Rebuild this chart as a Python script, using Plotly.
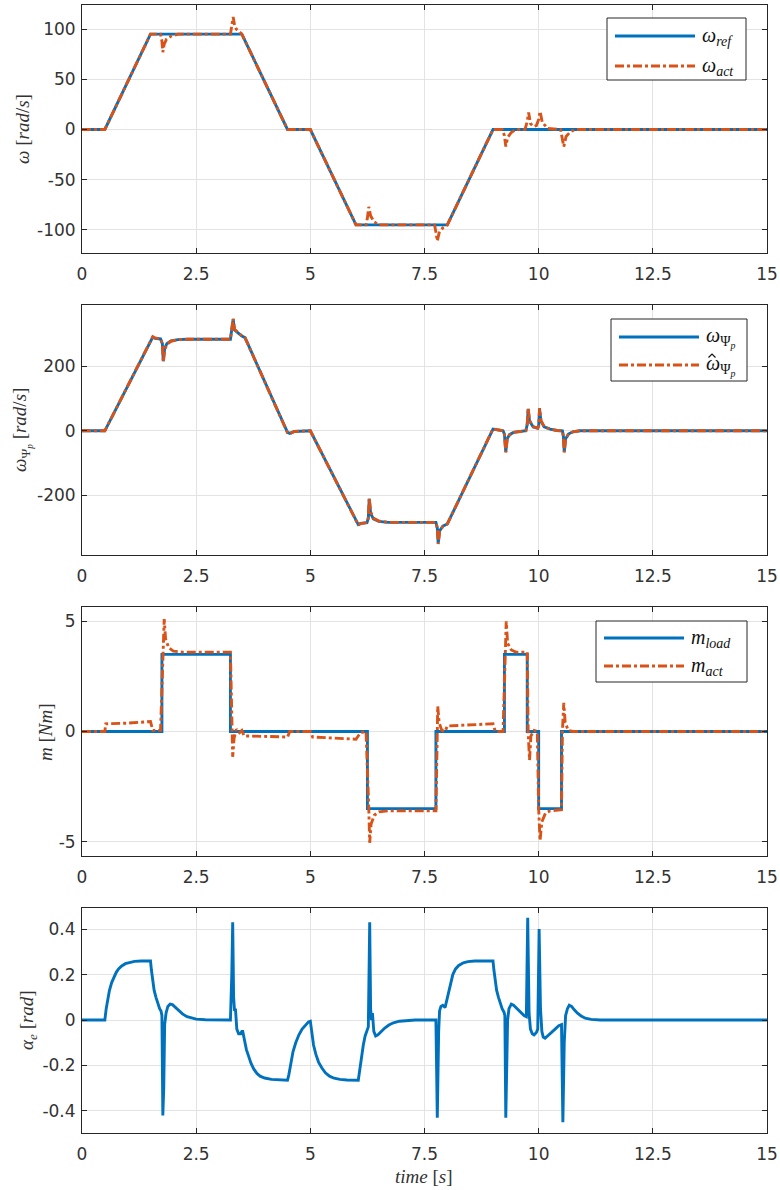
import plotly.graph_objects as go

# ---------------- data ----------------
x_ticks = [0, 2.5, 5, 7.5, 10, 12.5, 15]
x_tick_labels = ["0", "2.5", "5", "7.5", "10", "12.5", "15"]

# panel 1: speed reference / actual
t_w_ref = [0, 0.5, 1.5, 3.5, 4.5, 5.0, 6.0, 8.0, 9.0, 15]
w_ref = [0, 0, 95, 95, 0, 0, -95, -95, 0, 0]

t_w_act = [0, 0.5, 1.5, 1.72, 1.75, 1.77, 1.8, 1.85, 1.95, 2.1, 3.25, 3.28, 3.31,
           3.34, 3.38, 3.45, 3.5, 4.5, 5.0, 6.0, 6.22, 6.25, 6.28, 6.32, 6.4, 6.5,
           7.72, 7.75, 7.78, 7.82, 7.9, 8.0, 9.0, 9.2, 9.25, 9.28, 9.32, 9.4, 9.5,
           9.7, 9.75, 9.78, 9.82, 9.88, 9.95, 10.0, 10.03, 10.08, 10.2, 10.48,
           10.52, 10.55, 10.6, 10.7, 10.8, 15]
w_act = [0, 0, 95, 95, 88, 77, 85, 90, 93, 95, 95, 104, 112,
         104, 100, 97, 95, 0, 0, -95, -95, -88, -77, -86, -92, -95,
         -95, -102, -111, -103, -98, -95, 0, 0, -6, -17, -8, -3, 0,
         0, 8, 17, 6, 3, 4, 10, 18, 7, 1, 0,
         -8, -17, -7, -2, 0, 0]

# panel 2: flux speed / estimate
t_w_psi = [0, 0.5, 1.55, 1.6, 1.72, 1.76, 1.78, 1.81, 1.86, 1.95, 2.1, 2.3, 3.25,
           3.28, 3.31, 3.34, 3.4, 3.5, 3.57, 4.5, 4.55, 4.65, 5.0, 6.05, 6.1, 6.24,
           6.27, 6.29, 6.32, 6.38, 6.5, 6.7, 7.75, 7.78, 7.8, 7.83, 7.9, 8.0, 9.0,
           9.1, 9.22, 9.25, 9.28, 9.31, 9.36, 9.45, 9.6, 9.72, 9.75, 9.77, 9.8,
           9.88, 9.98, 10.0, 10.02, 10.05, 10.12, 10.25, 10.4, 10.52, 10.54, 10.56,
           10.59, 10.65, 10.75, 10.9, 15]
w_psi = [0, 0, 290, 286, 284, 270, 215, 255, 270, 278, 282, 283, 283,
         310, 345, 312, 305, 293, 288, -5, -8, -2, 0, -290, -286, -284,
         -270, -210, -255, -272, -280, -283, -283, -300, -348, -310, -295, -288, 5,
         3, 0, -10, -65, -25, -12, -5, -1, 0, 20, 68, 30,
         12, 8, 15, 68, 30, 12, 5, 1, 0, -15, -65,
         -25, -10, -3, 0, 0]
t_w_psi_hat = [0, 0.5, 1.55, 1.6, 1.72, 1.76, 1.78, 1.81, 1.86, 1.95, 2.1, 2.3, 3.25,
               3.28, 3.31, 3.34, 3.4, 3.5, 3.57, 4.5, 4.55, 4.65, 5.0, 6.05, 6.1, 6.24,
               6.27, 6.29, 6.32, 6.38, 6.5, 6.7, 7.75, 7.78, 7.8, 7.83, 7.9, 8.0, 9.0,
               9.1, 9.22, 9.25, 9.28, 9.31, 9.36, 9.45, 9.6, 9.72, 9.75, 9.77, 9.8,
               9.88, 9.98, 10.0, 10.02, 10.05, 10.12, 10.25, 10.4, 10.52, 10.54, 10.56,
               10.59, 10.65, 10.75, 10.9, 15]
w_psi_hat = [0, 0, 291, 287, 284, 268, 212, 250, 268, 277, 282, 283, 283,
             312, 347, 314, 306, 294, 288, -6, -9, -2, 0, -291, -287, -284,
             -268, -208, -250, -270, -279, -283, -283, -302, -350, -312, -296, -288, 6,
             3, 0, -12, -67, -27, -13, -5, -1, 0, 22, 70, 32,
             13, 8, 17, 70, 32, 13, 5, 1, 0, -17, -67,
             -27, -11, -3, 0, 0]

# panel 3: torque
t_m_load = [0, 1.75, 1.75, 3.25, 3.25, 6.25, 6.25, 7.75, 7.75, 9.25, 9.25, 9.75,
            9.75, 10.0, 10.0, 10.5, 10.5, 15]
m_load = [0, 0, 3.5, 3.5, 0, 0, -3.5, -3.5, 0, 0, 3.5, 3.5,
          0, 0, -3.5, -3.5, 0, 0]

t_m_act = [0, 0.5, 0.52, 1.0, 1.5, 1.55, 1.72, 1.77, 1.8, 1.83, 1.9, 2.0, 2.2, 3.25,
           3.28, 3.3, 3.33, 3.38, 3.45, 3.5, 3.55, 4.5, 4.55, 5.0, 5.05, 6.0, 6.1,
           6.22, 6.28, 6.3, 6.33, 6.4, 6.5, 6.7, 7.75, 7.77, 7.79, 7.82, 7.88, 7.95,
           8.0, 9.0, 9.05, 9.22, 9.27, 9.29, 9.32, 9.4, 9.5, 9.75, 9.77, 9.8, 9.83,
           9.9, 9.97, 10.0, 10.03, 10.07, 10.15, 10.25, 10.5, 10.52, 10.55, 10.58,
           10.65, 10.75, 15]
m_act = [0, 0, 0.35, 0.38, 0.45, 0.05, 0.05, 3.5, 5.1, 4.2, 3.8, 3.65, 3.6, 3.6,
         0.0, -1.15, -0.3, 0.1, -0.05, 0.05, -0.2, -0.25, 0.0, 0.0, -0.25, -0.35, -0.05,
         0.0, -3.5, -5.05, -4.2, -3.8, -3.65, -3.6, -3.6, 0.0, 1.15, 0.4, 0.05, 0.0,
         0.25, 0.35, 0.0, 0.0, 3.5, 5.0, 4.0, 3.7, 3.6, 3.6, 0.0, -1.3, -0.2,
         0.05, 0.0, -3.5, -4.95, -4.1, -3.7, -3.6, -3.55, 0.0, 1.3, 0.4,
         0.05, 0.0, 0.0]

# panel 4: load angle error
t_alpha = [0, 0.5, 0.53, 0.56, 0.6, 0.65, 0.7, 0.75, 0.8, 0.87, 0.95, 1.05, 1.15, 1.3,
           1.5, 1.52, 1.55, 1.58, 1.62, 1.66, 1.7, 1.73, 1.75, 1.77, 1.79, 1.81, 1.84,
           1.88, 1.93, 1.98, 2.05, 2.12, 2.2, 2.3, 2.4, 2.5, 2.7, 3.25,
           3.28, 3.3, 3.32, 3.34, 3.36, 3.39, 3.43, 3.47, 3.5, 3.52, 3.56, 3.6, 3.65,
           3.7, 3.76, 3.83, 3.9, 4.0, 4.15, 4.3, 4.5,
           4.53, 4.57, 4.62, 4.68, 4.75, 4.82, 4.9, 4.96, 5.0,
           5.03, 5.07, 5.12, 5.18, 5.25, 5.33, 5.42, 5.52, 5.65, 5.8, 6.05,
           6.08, 6.12, 6.16, 6.2, 6.25, 6.27, 6.3, 6.32, 6.34, 6.36, 6.39, 6.43, 6.48,
           6.55, 6.63, 6.72, 6.82, 6.95, 7.1, 7.3, 7.75,
           7.78, 7.81, 7.83, 7.86, 7.9, 7.95, 8.0, 8.03, 8.07, 8.12, 8.18, 8.25, 8.35,
           8.45, 8.6, 9.0,
           9.02, 9.05, 9.08, 9.12, 9.16, 9.2, 9.24, 9.26, 9.28, 9.3, 9.32, 9.35, 9.4,
           9.45, 9.52, 9.6, 9.68, 9.73, 9.76, 9.79, 9.82, 9.86, 9.9, 9.95, 9.98,
           10.01, 10.04, 10.07, 10.1, 10.14, 10.2, 10.28, 10.36, 10.44, 10.5, 10.53,
           10.56, 10.59, 10.63, 10.67, 10.72, 10.78, 10.85, 10.93, 11.02, 11.15,
           11.35, 15]
alpha_e = [0, 0, 0.05, 0.09, 0.13, 0.165, 0.19, 0.21, 0.225, 0.238, 0.248, 0.254,
           0.258, 0.26,
           0.26, 0.22, 0.17, 0.13, 0.1, 0.07, 0.05, 0.04, 0.02, -0.42, -0.3, -0.02, 0.03,
           0.06, 0.07, 0.068, 0.055, 0.04, 0.027, 0.015, 0.008, 0.004, 0.001, 0.0,
           0.2, 0.43, 0.1, 0.04, 0.05, -0.04, -0.06, -0.06, -0.05, -0.05, -0.09, -0.13,
           -0.16, -0.19, -0.215, -0.235, -0.247, -0.255, -0.261, -0.264, -0.265,
           -0.24, -0.19, -0.14, -0.1, -0.065, -0.04, -0.02, -0.008, -0.005,
           -0.06, -0.11, -0.15, -0.185, -0.21, -0.232, -0.247, -0.256, -0.261, -0.264,
           -0.265,
           -0.22, -0.16, -0.11, -0.07, -0.04, -0.03, 0.43, 0.05, 0.0, 0.03, -0.05, -0.07,
           -0.065, -0.05, -0.035, -0.022, -0.012, -0.005, -0.002, 0.0, 0.0,
           -0.43, -0.05, 0.04, 0.06, 0.065, 0.055, 0.1, 0.13, 0.17, 0.2, 0.225, 0.24,
           0.252, 0.257, 0.26, 0.26,
           0.22, 0.17, 0.13, 0.1, 0.07, 0.05, 0.035, 0.02, -0.43, -0.25, 0.0, 0.05, 0.07,
           0.065, 0.05, 0.035, 0.02, 0.015, 0.45, 0.03, -0.04, -0.06, -0.065, -0.055,
           -0.04, 0.4, 0.05, -0.05, -0.075, -0.08, -0.07, -0.055, -0.04, -0.025, -0.02,
           -0.45, -0.1, 0.02, 0.05, 0.065, 0.06, 0.045, 0.03, 0.018, 0.008, 0.003,
           0.0, 0.0]

# ---------------- style ----------------
W, H = 780, 1190
BLUE = "#0072BD"
ORANGE = "#D95319"
AX = "#262626"
GRID = "#e3e3e3"
TICKFONT = dict(family="DejaVu Sans", size=17, color="#333333")
SERIF = "Liberation Serif"
LW = 2.9


def px(x):
    return x / W


def py(y):
    return 1 - y / H


X0, X1 = 82, 767
panels = [  # top, bottom pixel of each plot box
    (5, 253),
    (305, 555),
    (607, 856),
    (908, 1133),
]
y_ranges = [[-123, 124], [-384, 389], [-5.65, 5.65], [-0.497, 0.493]]
y_tickvals = [[-100, -50, 0, 50, 100], [-200, 0, 200], [-5, 0, 5],
              [-0.4, -0.2, 0, 0.2, 0.4]]
y_ticktext = [["-100", "-50", "0", "50", "100"], ["-200", "0", "200"],
              ["-5", "0", "5"], ["-0.4", "-0.2", "0", "0.2", "0.4"]]

fig = go.Figure()

series = [
    (1, t_w_ref, w_ref, BLUE, "solid"),
    (1, t_w_act, w_act, ORANGE, "dashdot"),
    (2, t_w_psi, w_psi, BLUE, "solid"),
    (2, t_w_psi_hat, w_psi_hat, ORANGE, "dashdot"),
    (3, t_m_load, m_load, BLUE, "solid"),
    (3, t_m_act, m_act, ORANGE, "dashdot"),
    (4, t_alpha, alpha_e, BLUE, "solid"),
]
for k, t, v, c, d in series:
    sfx = "" if k == 1 else str(k)
    fig.add_trace(go.Scatter(x=t, y=v, mode="lines",
                             line=dict(color=c, width=LW, dash=d),
                             xaxis="x" + sfx, yaxis="y" + sfx,
                             showlegend=False, hoverinfo="skip"))

layout = dict(width=W, height=H, margin=dict(l=0, r=0, t=0, b=0),
              paper_bgcolor="white", plot_bgcolor="white", showlegend=False)
for i, (top, bot) in enumerate(panels):
    k = i + 1
    sfx = "" if k == 1 else str(k)
    common = dict(showline=True, linecolor=AX, linewidth=1, mirror="ticks",
                  ticks="inside", ticklen=5, tickcolor=AX, showgrid=True,
                  gridcolor=GRID, gridwidth=1, zeroline=False, tickfont=TICKFONT,
                  automargin=False)
    layout["xaxis" + sfx] = dict(domain=[px(X0), px(X1)], anchor="y" + sfx,
                                 range=[0, 15], tickmode="array", tickvals=x_ticks,
                                 ticktext=x_tick_labels, ticklabelstandoff=6, **common)
    layout["yaxis" + sfx] = dict(domain=[py(bot), py(top)], anchor="x" + sfx,
                                 range=y_ranges[i], tickmode="array",
                                 tickvals=y_tickvals[i], ticktext=y_ticktext[i],
                                 ticklabelstandoff=2, **common)
fig.update_layout(**layout)

# axis titles (as annotations)
LBL = dict(family=SERIF, size=19, color="#333333")
ann = []
ytitles = [
    ("<i>ω</i> [<i>rad</i>/<i>s</i>]", 22, 129),
    ("<i>ω</i><sub>Ψ<sub><i>p</i></sub></sub> [<i>rad</i>/<i>s</i>]", 22, 430),
    ("<i>m</i> [<i>Nm</i>]", 45, 732),
    ("<i>α</i><sub><i>e</i></sub> [<i>rad</i>]", 28, 1020),
]
for txt, x, y in ytitles:
    ann.append(dict(text=txt, x=px(x), y=py(y), xref="paper", yref="paper",
                    showarrow=False, textangle=-90, font=LBL,
                    xanchor="center", yanchor="middle"))
ann.append(dict(text="<i>time</i> [<i>s</i>]", x=px(424), y=py(1176), xref="paper",
                yref="paper", showarrow=False, font=LBL, xanchor="center",
                yanchor="middle"))

# manual legends
legends = [
    # box x0, x1, y0, y1, line x0, x1, row y's, text x, labels
    (607, 746, 18, 80, 615, 695, (36, 66), 700,
     ("<i>ω</i><sub><i>ref</i></sub>", "<i>ω</i><sub><i>act</i></sub>")),
    (611, 747, 319, 381, 619, 699, (337, 365), 704,
     ("<i>ω</i><sub>Ψ<sub><i>p</i></sub></sub>", "<i>ω</i><sub>Ψ<sub><i>p</i></sub></sub>")),
    (596, 747, 621, 682, 604, 684, (638, 666), 689,
     ("<i>m</i><sub><i>load</i></sub>", "<i>m</i><sub><i>act</i></sub>")),
]
shapes = []
for bx0, bx1, by0, by1, lx0, lx1, rows, tx, labels in legends:
    shapes.append(dict(type="rect", xref="paper", yref="paper",
                       x0=px(bx0), x1=px(bx1), y0=py(by1), y1=py(by0),
                       line=dict(color=AX, width=1), fillcolor="white", layer="above"))
    for j, (yy, lab) in enumerate(zip(rows, labels)):
        shapes.append(dict(type="line", xref="paper", yref="paper",
                           x0=px(lx0), x1=px(lx1), y0=py(yy), y1=py(yy),
                           line=dict(color=BLUE if j == 0 else ORANGE, width=LW,
                                     dash="solid" if j == 0 else "dashdot"),
                           layer="above"))
        ann.append(dict(text=lab, x=px(tx), y=py(yy), xref="paper", yref="paper",
                        showarrow=False, xanchor="left", yanchor="middle",
                        font=dict(family=SERIF, size=20, color="#111111")))
# hat accent over the estimated flux speed symbol (drawn as a small caret path)
hx, hy = 712, 354
shapes.append(dict(type="path", xref="paper", yref="paper",
                   path="M {:.5f},{:.5f} L {:.5f},{:.5f} L {:.5f},{:.5f}".format(
                       px(hx - 3.5), py(hy + 3.5), px(hx), py(hy), px(hx + 3.5), py(hy + 3.5)),
                   line=dict(color="#111111", width=1.2), layer="above"))

fig.update_layout(annotations=ann, shapes=shapes)

fig.write_html("out.html", config={"displayModeBar": False},
               post_script="document.body.style.margin='0';")
